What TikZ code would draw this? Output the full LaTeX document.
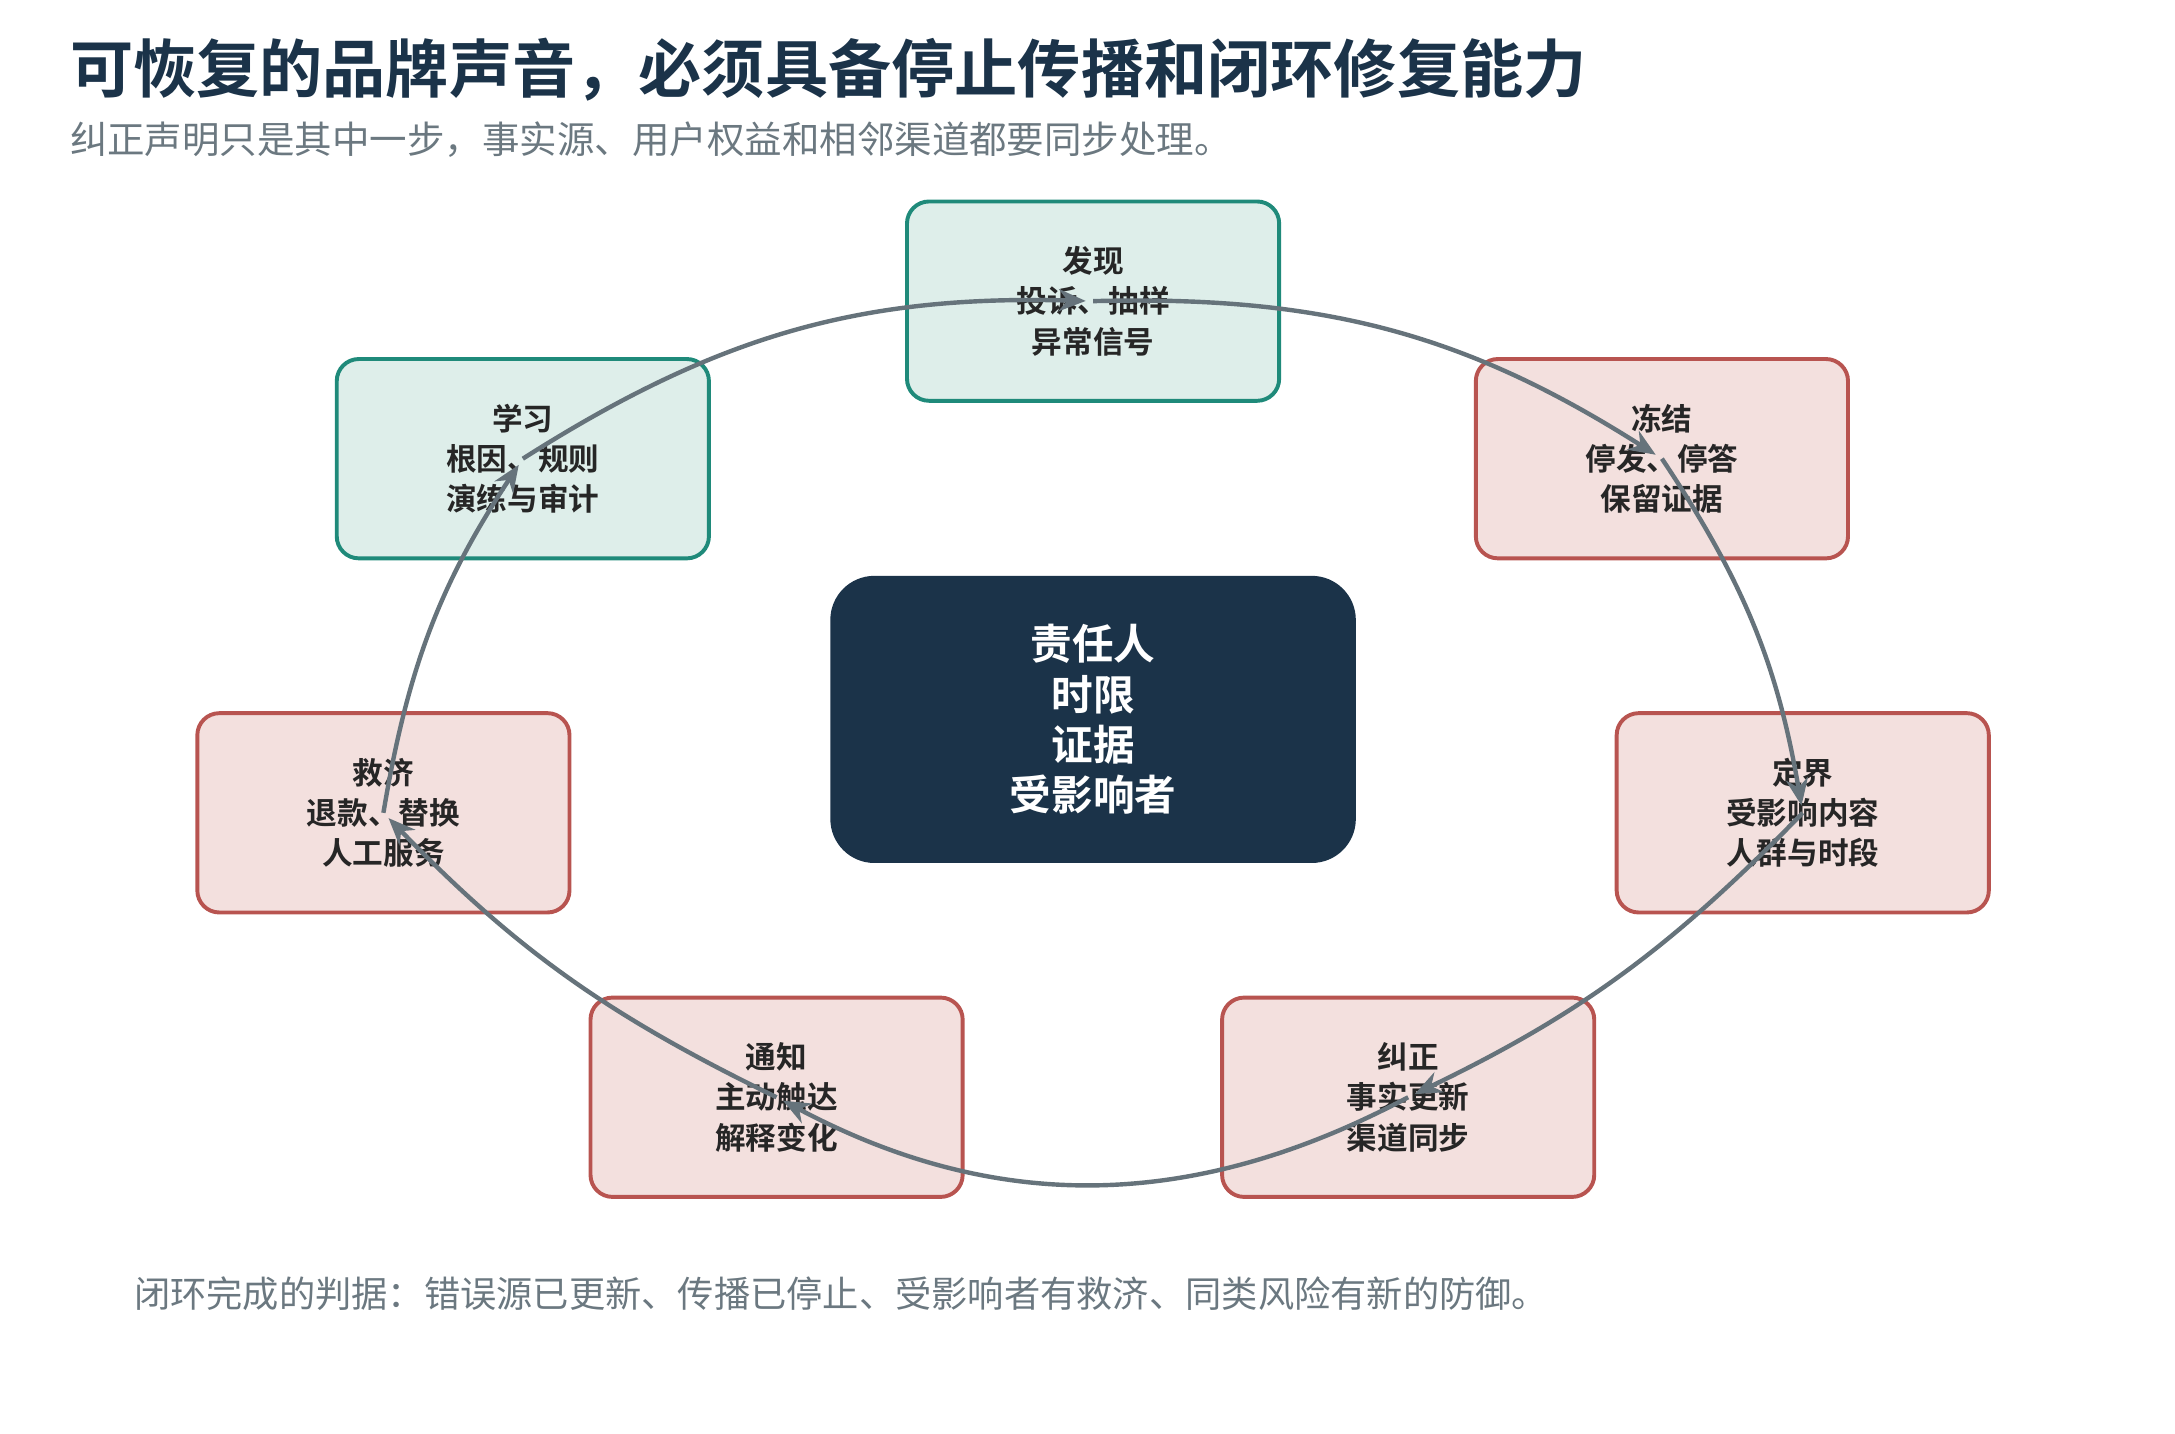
\documentclass[tikz,border=0pt]{standalone}
\usepackage{fontspec}
\setmainfont{Noto Sans CJK SC}[BoldFont={Noto Sans CJK SC Bold}]
\usetikzlibrary{arrows.meta,calc}
\definecolor{navy}{HTML}{1B3349}
\definecolor{tealb}{HTML}{1F8A7A}
\definecolor{tealf}{HTML}{DEEEEA}
\definecolor{redb}{HTML}{B85450}
\definecolor{redf}{HTML}{F3E0DE}
\definecolor{arr}{HTML}{66737B}
\definecolor{sub}{HTML}{6B7880}
\begin{document}
\begin{tikzpicture}[x=0.02cm,y=0.02cm,
  box/.style={draw, line width=1.6pt, rounded corners=9pt, minimum width=5.34cm, minimum height=2.86cm,
    align=center, font=\bfseries\fontsize{12.5}{16.4}\selectfont, text=black!85},
  gbox/.style={box, draw=tealb, fill=tealf},
  rbox/.style={box, draw=redb, fill=redf},
  flow/.style={draw=arr, line width=1.8pt, -{Stealth[length=11pt,width=9pt]}, shorten >=3pt}]
\useasboundingbox (0,0) rectangle (1560,1028);
\node[anchor=west, text=navy, font=\bfseries\fontsize{25.8}{30}\selectfont] (title) at (44,978) {可恢复的品牌声音，必须具备停止传播和闭环修复能力};
\node[anchor=west, text=sub, font=\fontsize{15.3}{18}\selectfont] (subt) at (44,928) {纠正声明只是其中一步，事实源、用户权益和相邻渠道都要同步处理。};
\node[anchor=west, text=sub, font=\fontsize{14.8}{18}\selectfont] (foot) at (90,100) {闭环完成的判据：错误源已更新、传播已停止、受影响者有救济、同类风险有新的防御。};

\node[fill=navy, rounded corners=18pt, minimum width=7.54cm, minimum height=4.12cm, align=center,
  text=white, font=\bfseries\fontsize{17}{20.5}\selectfont] (core) at (784,512) {责任人\\时限\\证据\\受影响者};
\node[gbox] (n1) at (784,812) {发现\\投诉、抽样\\异常信号};
\node[rbox] (n2) at (1192,699) {冻结\\停发、停答\\保留证据};
\node[rbox] (n3) at (1293,445) {定界\\受影响内容\\人群与时段};
\node[rbox] (n4) at (1010,241) {纠正\\事实更新\\渠道同步};
\node[rbox] (n5) at (557,241) {通知\\主动触达\\解释变化};
\node[rbox] (n6) at (275,445) {救济\\退款、替换\\人工服务};
\node[gbox] (n7) at (375,699) {学习\\根因、规则\\演练与审计};

\draw[flow] (n1.center) to[bend left=17] (n2.center);
\draw[flow] (n2.center) to[bend left=12] (n3.center);
\draw[flow] (n3.center) to[bend left=10] (n4.center);
\draw[flow] (n4.center) to[bend left=28] (n5.center);
\draw[flow] (n5.center) to[bend left=10] (n6.center);
\draw[flow] (n6.center) to[bend left=12] (n7.center);
\draw[flow] (n7.center) to[bend left=17] (n1.center);
\end{tikzpicture}
\end{document}
